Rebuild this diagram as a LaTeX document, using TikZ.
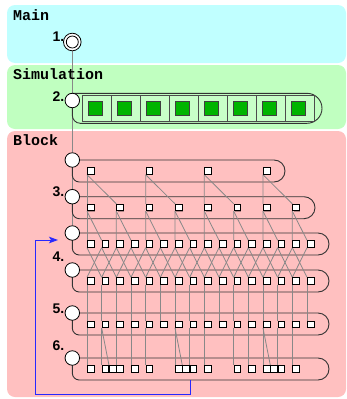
\documentclass[tikz,border=0pt]{standalone}
\usepackage{fontspec}
\newfontfamily\ttb{Liberation Mono}
\newfontfamily\sfb{Liberation Sans}
\usetikzlibrary{shadows,arrows.meta}
\definecolor{mainbg}{HTML}{C0FFFF}
\definecolor{simbg}{HTML}{C0FFC0}
\definecolor{blkbg}{HTML}{FFC0C0}
\definecolor{cellbg}{HTML}{C8FFC8}
\definecolor{grn}{HTML}{00B400}
\definecolor{linkc}{HTML}{888888}
\definecolor{arrblue}{HTML}{2828FF}
\pgfdeclarelayer{bg}
\pgfdeclarelayer{mid}
\pgfsetlayers{bg,mid,main}
\begin{document}
\begin{tikzpicture}[x=1pt,y=-1pt,
  panel/.style={rounded corners=8pt},
  title/.style={anchor=base west,inner sep=0pt,font=\ttb\bfseries\fontsize{15}{15}\selectfont},
  num/.style={anchor=base east,inner sep=0pt,font=\sfb\bfseries\fontsize{14}{14}\selectfont},
  circ/.style={circle,draw=black,fill=white,line width=0.8pt,minimum size=14.5pt,inner sep=0pt},
  sq/.style={rectangle,draw=black,fill=white,line width=0.8pt,minimum size=6.6pt,inner sep=0pt,
    drop shadow={shadow xshift=0.8pt,shadow yshift=-0.8pt,fill=black,opacity=0.3}},
  cell/.style={rectangle,draw=black!70,fill=cellbg,line width=0.7pt,minimum width=29pt,minimum height=26pt,inner sep=0pt},
  gsq/.style={rectangle,draw=black!75,fill=grn,line width=0.8pt,minimum size=14pt,inner sep=0pt},
  link/.style={draw=linkc,line width=0.8pt},
  capsule/.style={draw=black!80,line width=0.9pt},
  loopar/.style={draw=arrblue,line width=1pt,-{Stealth[length=9pt,width=6.5pt,inset=2pt]}}
]
\useasboundingbox (0,0) rectangle (347,399);
% panels
\begin{pgfonlayer}{bg}
\fill[mainbg,panel] (7,5) rectangle (346,63);
\fill[simbg,panel] (7,65) rectangle (346,129);
\fill[blkbg,panel] (7,131) rectangle (346,397);
\end{pgfonlayer}
% titles
\node[title] (tmain) at (13,20) {Main};
\node[title] (tsim) at (13,79.5) {Simulation};
\node[title] (tblk) at (13,145) {Block};
% circles
\node[circ,minimum size=17.6pt] (c1) at (72.3,42) {};
\node[circ,minimum size=12pt] (c1i) at (72.3,42) {};
\node[circ] (c2) at (72.3,100.5) {};
\node[circ] (cA) at (72.3,160) {};
\node[circ] (cB) at (72.3,196.7) {};
\node[circ] (cC) at (72.3,233) {};
\node[circ] (cD) at (72.3,270) {};
\node[circ] (cE) at (72.3,313) {};
\node[circ] (cF) at (72.3,358) {};
% numbers
\node[num] (n1) at (64.5,41.7) {1.};
\node[num] (n2) at (64.5,101.5) {2.};
\node[num] (n3) at (64.5,196.5) {3.};
\node[num] (n4) at (64.5,261.5) {4.};
\node[num] (n5) at (64.5,313) {5.};
\node[num] (n6) at (64.5,350.5) {6.};
% simulation cells
\foreach \i in {0,...,7}{
  \node[cell] (s\i) at ({82+29*\i+14.5},108.5) {};
  \node[gsq] (g\i) at ({82+29*\i+13.5},108.8) {};
}
% block squares
\foreach \i in {0,...,3} \node[sq] (A\i) at ({90.7+58.667*\i},171) {};
\foreach \i in {0,...,7} \node[sq] (B\i) at ({90.7+29.333*\i},207.5) {};
\foreach \i in {0,...,15}{
  \node[sq] (C\i) at ({90.7+14.667*\i},244) {};
  \node[sq] (D\i) at ({90.7+14.667*\i},281) {};
  \node[sq] (E\i) at ({90.7+14.667*\i},324.3) {};
}
\foreach \p/\n in {0/0,1/1,1.5/1h,2/2,3/3,4/4,6/6,6.5/6h,7/7,8/8,10/10,11/11,12/12,12.5/12h,13/13,14/14}
  \node[sq] (F\n) at ({90.7+14.667*\p},369) {};
% capsules and links
\begin{pgfonlayer}{mid}
\draw[link] (c1) -- (c2) -- (cA) -- (cB) -- (cC);
\draw[capsule] (72.3,100.5) -- (72.3,115.3) arc[start angle=180,end angle=90,radius=8] -- (307,123.3) arc[start angle=90,end angle=-90,radius=15] -- (72.3,93.3);
\foreach \yc/\xr in {160/285,196.7/315,233/329,270/329,313/329,358/329}
  \draw[capsule] (72.3,\yc) -- ({72.3},{\yc+15}) arc[start angle=180,end angle=90,radius=7] -- ({\xr-11},{\yc+22}) arc[start angle=90,end angle=-90,radius=11] -- (72.3,\yc);
\foreach \i in {0,...,3}{
  \pgfmathtruncatemacro\j{2*\i}\pgfmathtruncatemacro\k{2*\i+1}
  \draw[link] (A\i.south west) -- (B\j.north west);
  \draw[link] (A\i.south west) -- (B\k.north west);
}
\foreach \i in {0,...,7}{
  \pgfmathtruncatemacro\j{2*\i}\pgfmathtruncatemacro\k{2*\i+1}
  \draw[link] (B\i.south west) -- (C\j.north west);
  \draw[link] (B\i.south west) -- (C\k.north west);
}
\foreach \i in {0,...,15}{
  \pgfmathtruncatemacro\l{\i-1}\pgfmathtruncatemacro\r{\i+1}
  \ifnum\i>0 \draw[link] (C\i.south west) -- (D\l.north west); \fi
  \ifnum\i<15 \draw[link] (C\i.south west) -- (D\r.north west); \fi
  \draw[link] (D\i.south west) -- (E\i.north west);
}
\foreach \a/\b in {0/0,1/1,2/2,3/3,4/4,6/6,7/7,8/8,10/10,11/11,12/12,13/13,14/14,1/1h,6/6h,12/12h}
  \draw[link] (E\a.south west) -- (F\b.north west);
\end{pgfonlayer}
% loop arrow
\coordinate (ls) at (190,380);
\coordinate (le) at (58,240);
\draw[loopar] (ls) |- (35.7,394.3) |- (le);
\end{tikzpicture}
\end{document}
